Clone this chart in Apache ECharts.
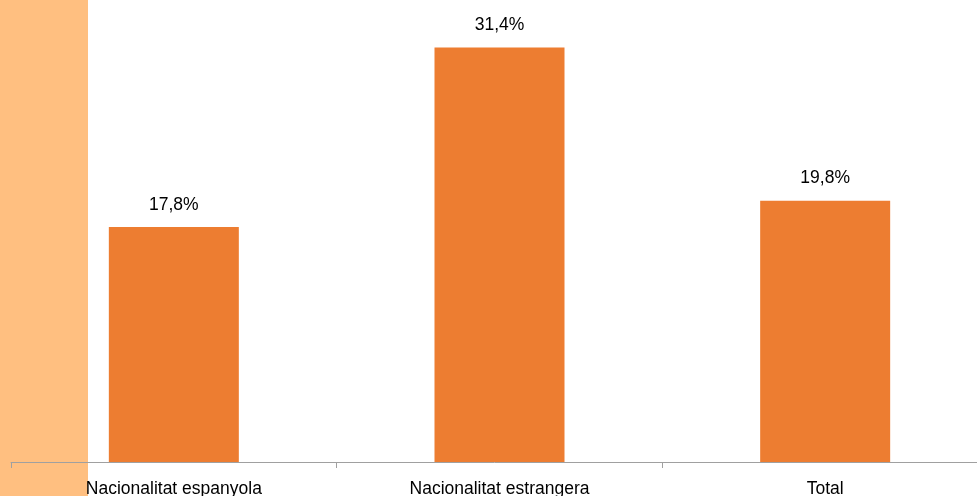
<!DOCTYPE html>
<html><head><meta charset="utf-8">
<script src="https://cdn.jsdelivr.net/npm/echarts@6/dist/echarts.min.js"></script>
<style>
html,body{margin:0;padding:0;background:#fff;}
#wrap{position:relative;width:977px;height:496px;overflow:hidden;}
#band{position:absolute;left:0;top:0;width:88px;height:496px;background:#FFBF80;}
#chart{position:absolute;left:0;top:0;width:977px;height:496px;}
</style>
</head><body>
<div id="wrap"><div id="band"></div><div id="chart"></div></div>
<script>
const categories = ['Nacionalitat espanyola', 'Nacionalitat estrangera', 'Total'];
const values = [17.8, 31.4, 19.8];

const FONT = '"Liberation Sans", Arial, sans-serif';
const chart = echarts.init(document.getElementById('chart'));
chart.setOption({
  animation: false,
  grid: { left: 11, width: 977, top: 0, bottom: 34, containLabel: false, outerBoundsMode: 'none' },
  xAxis: {
    type: 'category',
    data: categories,
    axisLine: { lineStyle: { color: '#A0A0A0', width: 1 } },
    axisTick: { show: true, length: 6, lineStyle: { color: '#A0A0A0' } },
    axisLabel: { color: '#000', fontFamily: FONT, fontSize: 17.5, margin: 18, interval: 0 }
  },
  yAxis: {
    type: 'value', min: 0, max: 35, show: false,
    splitLine: { show: false }
  },
  series: [{
    type: 'bar',
    data: values,
    barWidth: 130,
    itemStyle: { color: '#ED7D31' },
    label: {
      show: true, position: 'top', distance: 13,
      color: '#000', fontFamily: FONT, fontSize: 17.5,
      formatter: p => p.value.toFixed(1).replace('.', ',') + '%'
    }
  }]
});
</script>
</body></html>
